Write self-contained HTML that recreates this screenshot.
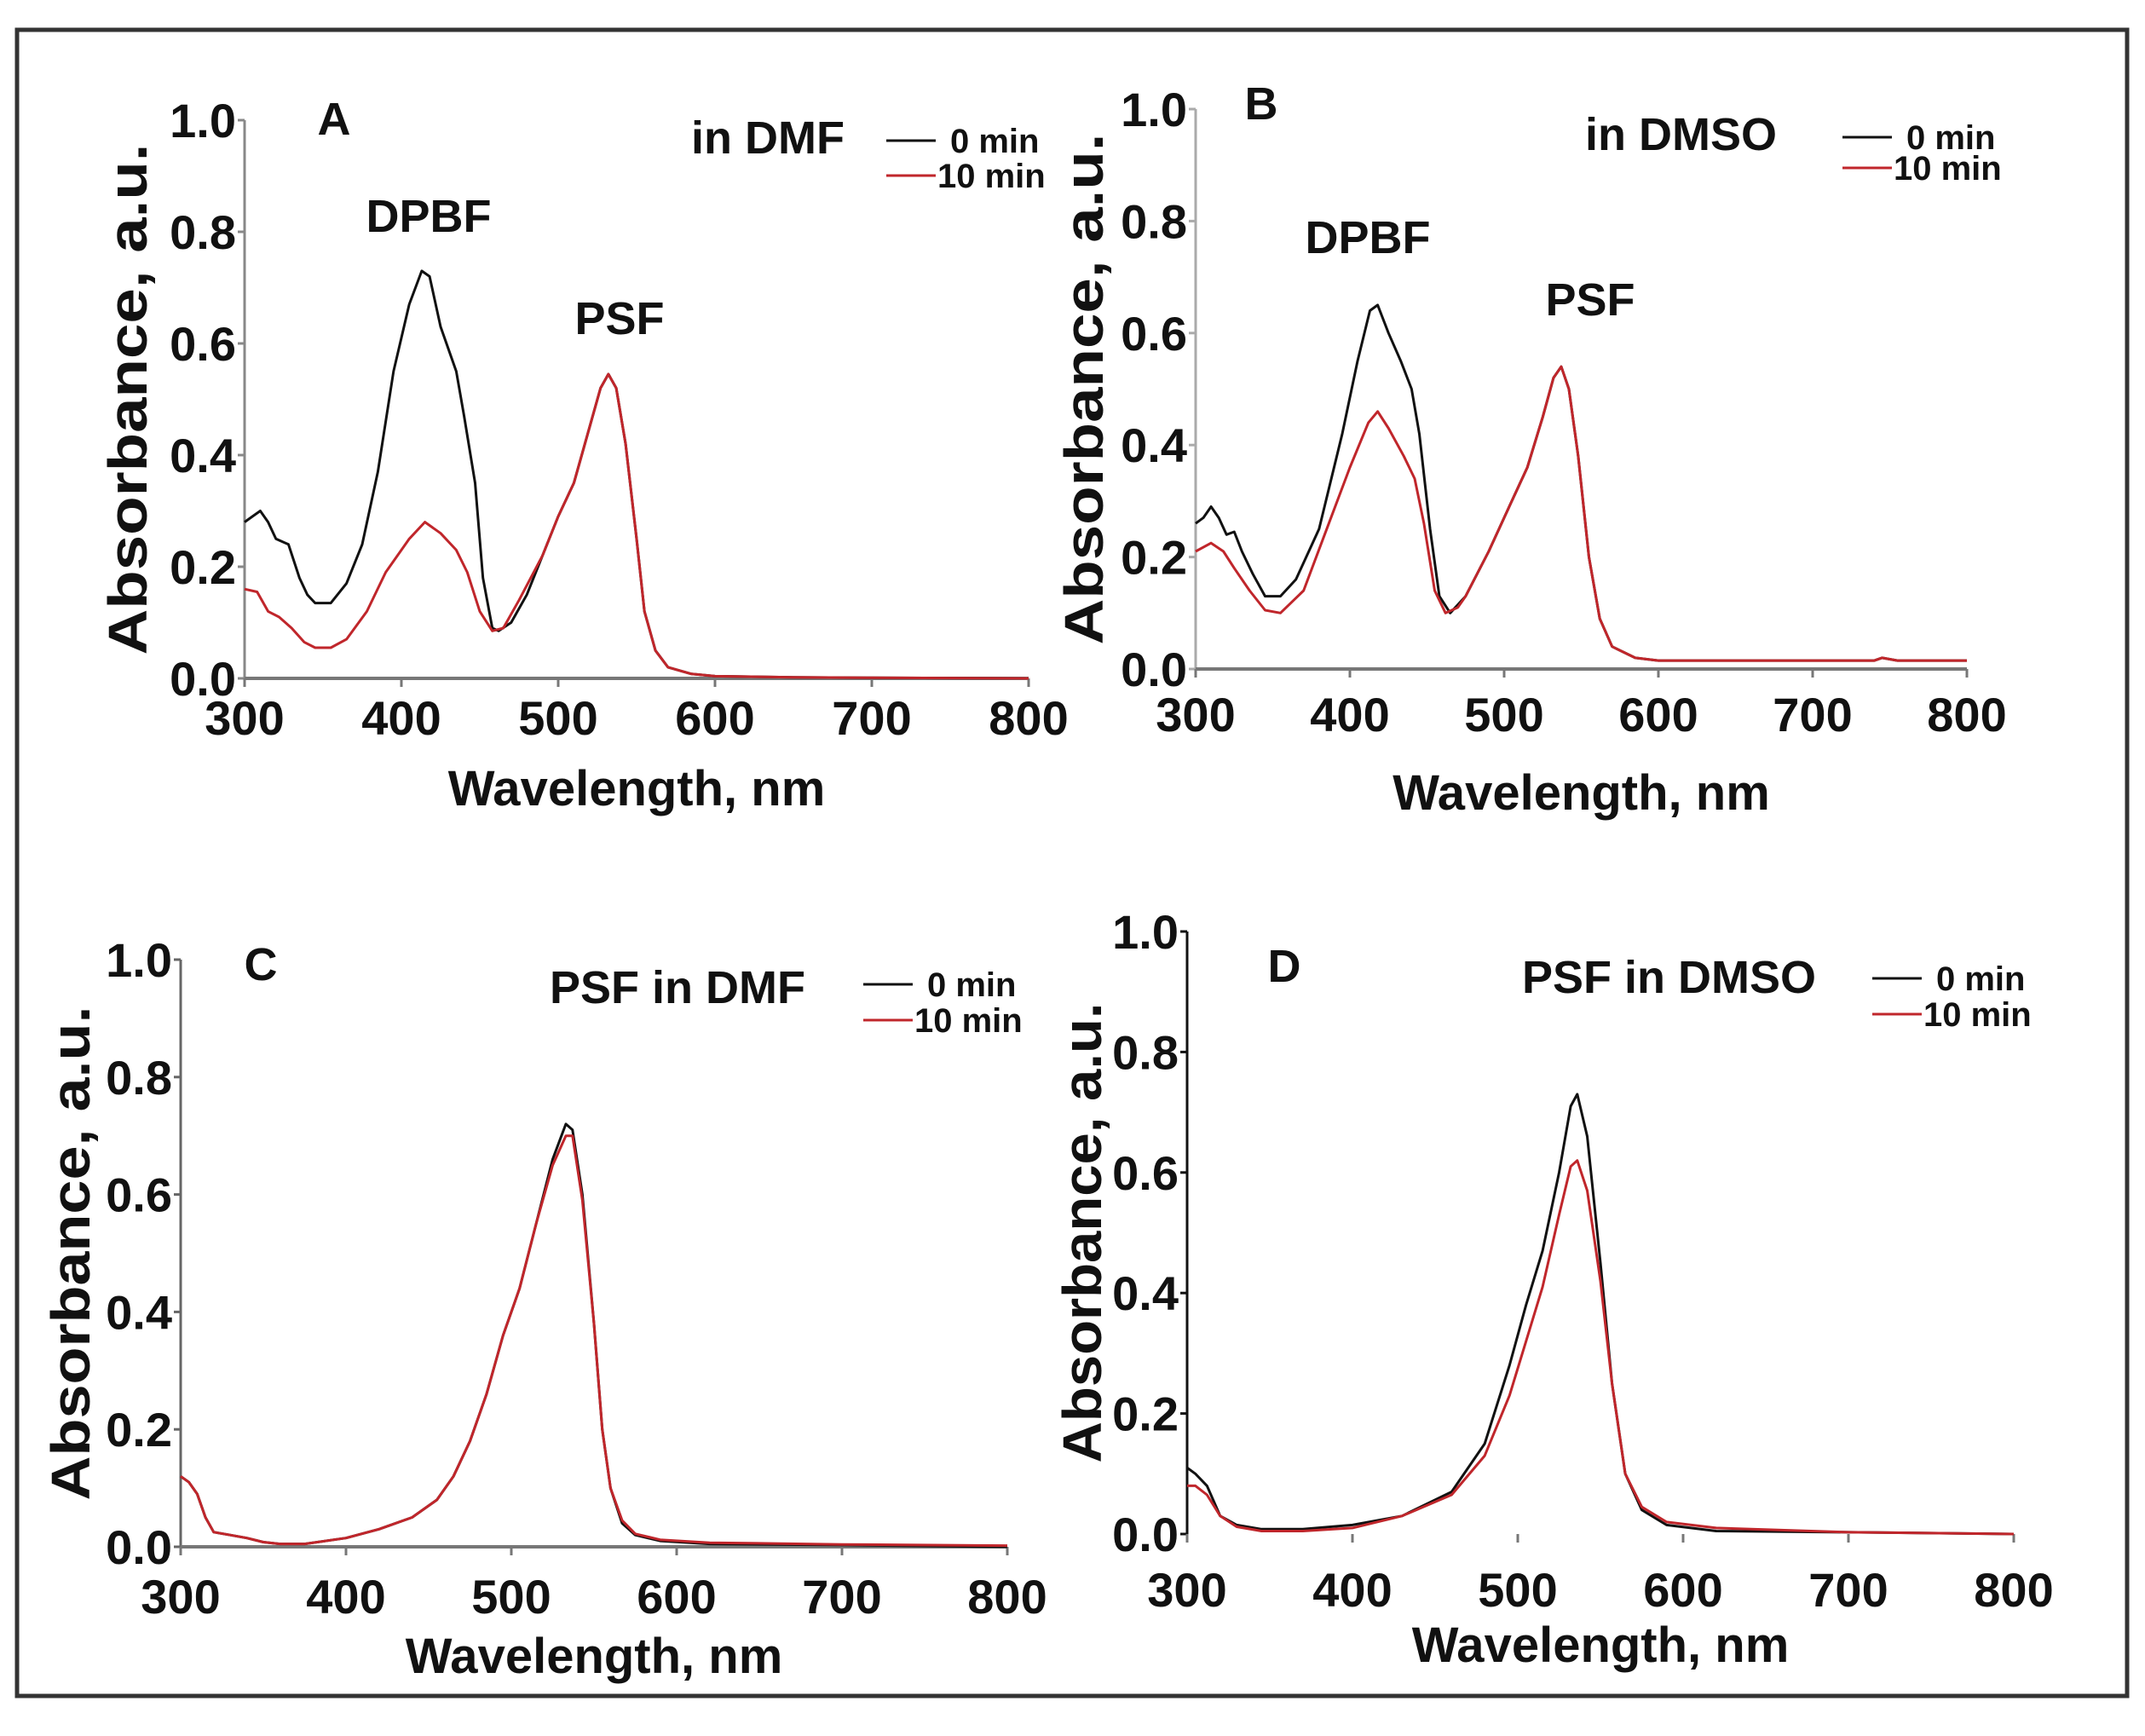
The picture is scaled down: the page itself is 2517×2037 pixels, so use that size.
<!DOCTYPE html>
<html><head><meta charset="utf-8"><title>Absorbance spectra</title>
<style>
html,body{margin:0;padding:0;background:#fff;}
svg{display:block;}
text{font-family:"Liberation Sans",Arial,sans-serif;font-weight:bold;fill:#111;}
</style></head>
<body>
<svg id="fig" xmlns="http://www.w3.org/2000/svg" width="2517" height="2037" viewBox="0 0 2517 2037">
<rect x="20" y="35" width="2476" height="1955" fill="#fff" stroke="#333" stroke-width="5"/>
</svg>
<script>
// ---- data ----
const xTicks = [300,400,500,600,700,800];
const yTicks = [0.0,0.2,0.4,0.6,0.8,1.0];
const yTickLabels = ["0.0","0.2","0.4","0.6","0.8","1.0"];

const aWl0 = [300,305,310,315,320,328,335,340,345,355,365,375,385,395,405,413,418,425,435,440,447,452,458,462,470,480,490,500,510,520,527,532,537,543,550,555,562,570,585,600,650,700,800];
const aAbs0 = [0.28,0.29,0.30,0.28,0.25,0.24,0.18,0.15,0.135,0.135,0.17,0.24,0.37,0.55,0.67,0.73,0.72,0.63,0.55,0.47,0.35,0.18,0.09,0.085,0.10,0.15,0.22,0.29,0.35,0.45,0.52,0.545,0.52,0.42,0.25,0.12,0.05,0.02,0.008,0.004,0.002,0.001,0.0];
const aWl10 = [300,308,315,322,330,338,345,355,365,378,390,405,415,425,435,442,450,458,465,475,490,500,510,520,527,532,537,543,550,555,562,570,585,600,650,700,800];
const aAbs10 = [0.16,0.155,0.12,0.11,0.09,0.065,0.055,0.055,0.07,0.12,0.19,0.25,0.28,0.26,0.23,0.19,0.12,0.085,0.09,0.14,0.22,0.29,0.35,0.45,0.52,0.545,0.52,0.42,0.25,0.12,0.05,0.02,0.008,0.004,0.002,0.001,0.0];

const bWl0 = [300,305,310,315,320,325,330,337,345,355,365,380,395,405,413,418,425,433,440,445,452,458,465,475,490,505,515,525,532,537,542,548,555,562,570,585,600,700,740,745,755,800];
const bAbs0 = [0.26,0.27,0.29,0.27,0.24,0.245,0.21,0.17,0.13,0.13,0.16,0.25,0.42,0.55,0.64,0.65,0.60,0.55,0.50,0.42,0.25,0.13,0.10,0.13,0.21,0.30,0.36,0.45,0.52,0.54,0.50,0.38,0.20,0.09,0.04,0.02,0.015,0.015,0.015,0.02,0.015,0.015];
const bWl10 = [300,310,318,325,335,345,355,370,385,400,412,418,425,435,442,448,455,462,470,475,490,505,515,525,532,537,542,548,555,562,570,585,600,700,740,745,755,800];
const bAbs10 = [0.21,0.225,0.21,0.18,0.14,0.105,0.10,0.14,0.25,0.36,0.44,0.46,0.43,0.38,0.34,0.26,0.14,0.10,0.11,0.13,0.21,0.30,0.36,0.45,0.52,0.54,0.50,0.38,0.20,0.09,0.04,0.02,0.015,0.015,0.015,0.02,0.015,0.015];

const cWl = [300,305,310,315,320,330,340,350,360,375,400,420,440,455,465,475,485,495,505,515,525,533,537,543,550,555,560,567,575,590,620,700,800];
const cAbs0 = [0.12,0.11,0.09,0.05,0.025,0.02,0.015,0.008,0.005,0.005,0.015,0.03,0.05,0.08,0.12,0.18,0.26,0.36,0.44,0.55,0.66,0.72,0.71,0.60,0.38,0.20,0.10,0.04,0.02,0.01,0.005,0.003,0.0];
const cAbs10 = [0.12,0.11,0.09,0.05,0.025,0.02,0.015,0.008,0.005,0.005,0.015,0.03,0.05,0.08,0.12,0.18,0.26,0.36,0.44,0.55,0.65,0.70,0.70,0.59,0.38,0.20,0.10,0.045,0.022,0.012,0.007,0.004,0.002];

const dWl = [300,305,312,320,330,345,370,400,430,460,480,495,505,515,525,532,536,542,550,557,565,575,590,620,700,800];
const dAbs0 = [0.11,0.10,0.08,0.03,0.015,0.008,0.008,0.015,0.03,0.07,0.15,0.28,0.38,0.47,0.60,0.71,0.73,0.66,0.45,0.25,0.10,0.04,0.015,0.005,0.003,0.0];
const dAbs10 = [0.08,0.08,0.065,0.03,0.012,0.005,0.005,0.01,0.03,0.065,0.13,0.23,0.32,0.41,0.53,0.61,0.62,0.57,0.42,0.25,0.10,0.045,0.02,0.01,0.003,0.0];

// ---- drawing ----
const NS = "http://www.w3.org/2000/svg";
const svg = document.getElementById('fig');
function mk(tag, attrs, parent){
  const e = document.createElementNS(NS, tag);
  for (const k in attrs) e.setAttribute(k, attrs[k]);
  (parent||svg).appendChild(e);
  return e;
}
function txt(parent, x, y, s, size, anchor){
  const t = mk('text', {x:x, y:y, 'font-size':size, 'text-anchor':anchor||'start'}, parent);
  t.textContent = s;
  return t;
}

const panels = [
  {id:'a', letter:'A', x0:287, x1:1207, y0:796, y1:141, axisCol:'#888', xAxis:true,
   series:[[aWl0,aAbs0,'#111'],[aWl10,aAbs10,'#c0262b']],
   letterPos:[392,158], solvent:'in DMF', solvPos:[811,180], legX:1040, legY0:165, legY1:206,
   peaks:[['DPBF',503,272],['PSF',727,392]], ytitleX:150, ytitleLen:600, xtitleY:945, xlabY:862},
  {id:'b', letter:'B', x0:1403, x1:2308, y0:785, y1:128, axisCol:'#aaa', xAxis:true,
   series:[[bWl0,bAbs0,'#111'],[bWl10,bAbs10,'#c0262b']],
   letterPos:[1480,140], solvent:'in DMSO', solvPos:[1860,176], legX:2162, legY0:161, legY1:197,
   peaks:[['DPBF',1605,297],['PSF',1866,370]], ytitleX:1272, ytitleLen:600, xtitleY:950, xlabY:858},
  {id:'c', letter:'C', x0:212, x1:1182, y0:1815, y1:1126, axisCol:'#666', xAxis:true,
   series:[[cWl,cAbs0,'#111'],[cWl,cAbs10,'#c0262b']],
   letterPos:[306,1150], solvent:'PSF in DMF', solvPos:[645,1177], legX:1013, legY0:1155, legY1:1197,
   peaks:[], ytitleX:83, ytitleLen:580, xtitleY:1963, xlabY:1893},
  {id:'d', letter:'D', x0:1393, x1:2363, y0:1800, y1:1093, axisCol:'#111', xAxis:false,
   series:[[dWl,dAbs0,'#111'],[dWl,dAbs10,'#c0262b']],
   letterPos:[1507,1152], solvent:'PSF in DMSO', solvPos:[1786,1165], legX:2197, legY0:1148, legY1:1190,
   peaks:[], ytitleX:1270, ytitleLen:540, xtitleY:1950, xlabY:1885}
];

panels.forEach(p => {
  const g = mk('g', {});
  
  
  const sx = v => p.x0 + (v - 300) / 500 * (p.x1 - p.x0);
  const sy = v => p.y0 - v * (p.y0 - p.y1);

  // axes
  const ya = mk('line', {x1:p.x0, y1:p.y1, x2:p.x0, y2:p.y0, stroke:p.axisCol, 'stroke-width':3}, g);
  
  
  if (p.xAxis) {
    const xa = mk('line', {x1:p.x0, y1:p.y0, x2:p.x1, y2:p.y0, stroke:'#777', 'stroke-width':4}, g);
    
    
  }
  // y ticks
  yTicks.forEach((v, i) => {
    const y = sy(v);
    mk('line', {x1:p.x0 - 8, y1:y, x2:p.x0, y2:y, stroke:p.axisCol, 'stroke-width':3}, g);
    const t = txt(g, p.x0 - 10, y + 20, yTickLabels[i], 56, 'end');
    
    
  });
  // x ticks
  xTicks.forEach(v => {
    const x = sx(v);
    mk('line', {x1:x, y1:p.y0, x2:x, y2:p.y0 + 10, stroke:'#777', 'stroke-width':3}, g);
    const t = txt(g, x, p.xlabY, String(v), 56, 'middle');
    
    
  });
  // series
  p.series.forEach((s, si) => {
    const pts = s[0].map((w, i) => sx(w).toFixed(1) + ',' + sy(s[1][i]).toFixed(1)).join(' ');
    const pl = mk('polyline', {points:pts, fill:'none', stroke:s[2], 'stroke-width':3, 'stroke-linejoin':'round'}, g);
    
    
  });
  // titles
  const xt = txt(g, (p.x0 + p.x1) / 2, p.xtitleY, 'Wavelength, nm', 58, 'middle');
  
  
  const cy = (p.y0 + p.y1) / 2;
  const yt = mk('text', {x:0, y:0, 'font-size':64, 'text-anchor':'middle', textLength:p.ytitleLen, lengthAdjust:'spacingAndGlyphs',
    transform:'translate(' + (p.ytitleX + 22) + ',' + cy + ') rotate(-90)'}, g);
  yt.textContent = 'Absorbance, a.u.';
  
  
  const lt = txt(g, p.letterPos[0], p.letterPos[1], p.letter, 54, 'middle');
  
  
  const st = txt(g, p.solvPos[0], p.solvPos[1], p.solvent, 54, 'start');
  
  
  p.peaks.forEach(pk => {
    const t = txt(g, pk[1], pk[2], pk[0], 54, 'middle');
    
    
  });
  // legend
  const lg = mk('g', {}, g);
  
  
  [[p.legY0, '#111', '0 min'], [p.legY1, '#c0262b', '10 min']].forEach(e => {
    mk('line', {x1:p.legX, y1:e[0], x2:p.legX + 58, y2:e[0], stroke:e[1], 'stroke-width':3}, lg);
    const t = txt(lg, p.legX + (e[2] === '0 min' ? 75 : 60), e[0] + 14, e[2], 40, 'start');
    
    
  });
});
</script>
</body></html>
